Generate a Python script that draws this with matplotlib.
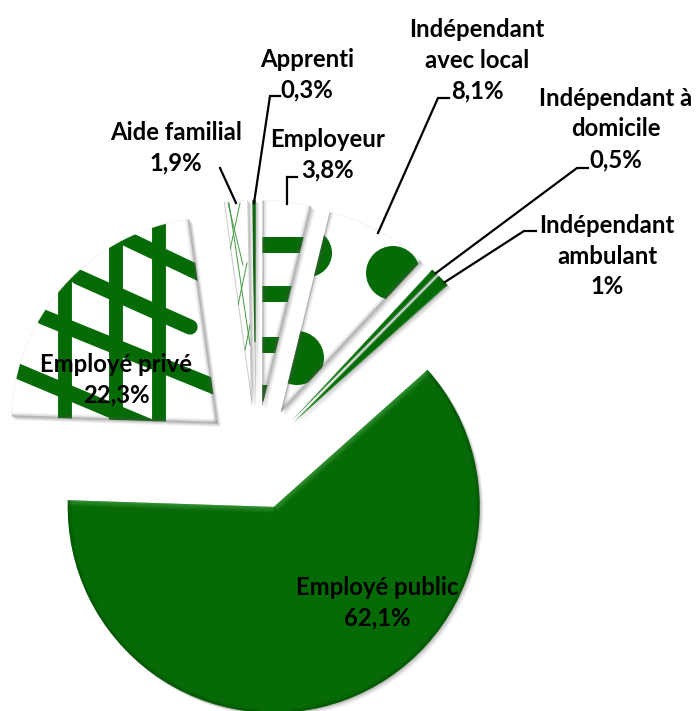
import numpy as np
import matplotlib
matplotlib.use('Agg')
import matplotlib.pyplot as plt
from matplotlib.patches import Wedge, Circle

# Input data
categories = ['Employé public', 'Employé privé', 'Aide familial', 'Apprenti', 'Employeur',
              'Indépendant\navec local', 'Indépendant à\ndomicile', 'Indépendant\nambulant']
values = [62.1, 22.3, 1.9, 0.3, 3.8, 8.1, 0.5, 1.0]
value_labels = ['62,1%', '22,3%', '1,9%', '0,3%', '3,8%', '8,1%', '0,5%', '1%']

W, H = 698, 711
GREEN = '#066b06'
plt.rcParams['font.family'] = ['Lato', 'DejaVu Sans']


def px(x, y):
    # picture pixels (origin top left) to axes coords
    return x, H - y


def pline(ax, xs, ys, **kw):
    return ax.plot(xs, [H - y for y in ys], **kw)[0]


fig = plt.figure(figsize=(W / 100, H / 100), dpi=100)
ax = fig.add_axes([0, 0, 1, 1])

colors = [GREEN] + ['white'] * 7
colors[6] = GREEN
colors[7] = GREEN
# explode is in data units here, so in pixels
wedges, _ = ax.pie(values, explode=[52] * len(values), radius=206, center=px(256, 458),
                   startangle=41.7, counterclock=False, colors=colors, frame=True,
                   normalize=True, wedgeprops={'linewidth': 0})
ax.set_xlim(0, W)
ax.set_ylim(0, H)
ax.set_aspect('equal')
ax.axis('off')

# soft shadows behind each slice
for w in wedges:
    for d, a in [(1, 0.10), (2, 0.08), (3, 0.06), (4, 0.04)]:
        ax.add_patch(Wedge((w.center[0] + d, w.center[1] - d), w.r, w.theta1, w.theta2,
                           fc='black', ec='none', alpha=a, zorder=0.5))


def clipped(artist, wedge):
    artist.set_clip_path(wedge)
    artist.set_zorder(2)
    return artist


# pattern on Employé privé
prive = wedges[1]
for x in [65, 116, 159]:
    clipped(pline(ax, [x, x], [200, 440], color=GREEN, lw=10, solid_capstyle='butt'), prive)
lattice = [(125, 238, 205, 276), (78, 277, 190, 327), (43, 317, 215, 387), (15, 370, 215, 454)]
for x0, y0, x1, y1 in lattice:
    clipped(pline(ax, [x0, x1], [y0, y1], color=GREEN, lw=11, solid_capstyle='round'), prive)

# thin lines on Aide familial
aide = wedges[2]
for x0, y0, x1, y1 in [(228, 203, 243, 265), (240, 203, 230, 250), (247, 263, 238, 305),
                       (250, 325, 245, 350), (229, 203, 250, 345)]:
    clipped(pline(ax, [x0, x1], [y0, y1], color='#3f9a3f', lw=0.7), aide)

# Apprenti is nearly all green
clipped(pline(ax, [254.5, 255.5], [200, 340], color=GREEN, lw=3), wedges[3])

# stripes on Employeur
for y in [245, 293.5, 345, 393]:
    clipped(pline(ax, [255, 315], [y, y], color=GREEN, lw=11.5, solid_capstyle='butt'), wedges[4])

# dots on Indépendant avec local
for cx, cy, r in [(393, 273, 27), (297, 358, 27), (308, 253, 24)]:
    clipped(ax.add_patch(Circle(px(cx, cy), r, fc=GREEN, ec='none')), wedges[5])

# bevel on the slices, the narrow ones get almost none
for i, w in enumerate(wedges):
    cx, cy = w.center
    for t in (w.theta1, w.theta2):
        ex = cx + w.r * np.cos(np.radians(t))
        ey = cy + w.r * np.sin(np.radians(t))
        if i == 0:
            steps = [(8, 0.12), (5, 0.18), (2, 0.2)]
            col = '#6fc06f'
        elif i in (6, 7):
            steps = [(1.5, 0.25)]
            col = '#6fc06f'
        elif i in (2, 3):
            steps = [(1.5, 0.3)]
            col = '#555555'
        else:
            steps = [(6, 0.08), (4, 0.12), (2, 0.3)]
            col = '#555555'
        for lw, a in steps:
            l, = ax.plot([cx, ex], [cy, ey], color=col, lw=lw, alpha=a, zorder=3, solid_capstyle='butt')
            l.set_clip_path(w)
    if colors[i] == GREEN:
        for lw, a in [(6, 0.15), (3, 0.25)]:
            th = np.radians(np.linspace(w.theta1, w.theta2, 200))
            l, = ax.plot(cx + w.r * np.cos(th), cy + w.r * np.sin(th), color='#033d03', lw=lw, alpha=a, zorder=3)
            l.set_clip_path(w)
    else:
        th = np.radians(np.linspace(w.theta1, w.theta2, 60))
        ax.plot(cx + w.r * np.cos(th), cy + w.r * np.sin(th), color='#d8d8d8', lw=0.5, ls=':', zorder=3)

# leader lines
leaders = [([220, 236], [168, 203]),
           ([280, 270, 254], [96, 96, 203]),
           ([297, 287, 287], [177, 177, 204]),
           ([449, 438, 378], [98, 98, 233]),
           ([588, 577, 436], [168, 168, 273]),
           ([536, 524, 445], [231, 231, 282])]
for xs, ys in leaders:
    pline(ax, xs, ys, color='black', lw=1.6, zorder=4, solid_joinstyle='miter')

# labels
label_pos = [(377, 603), (116, 380), (176, 148), (307, 75), (328, 155), (477, 60), (616, 129), (607, 256)]
for name, val, (x, y) in zip(categories, value_labels, label_pos):
    xt, yt = px(x, y)
    ax.text(xt, yt, name + '\n' + val, ha='center', va='center', fontsize=17.2, fontweight='bold',
            color='black', linespacing=1.4, zorder=5)

fig.savefig('out.png', dpi=100, facecolor='white')
